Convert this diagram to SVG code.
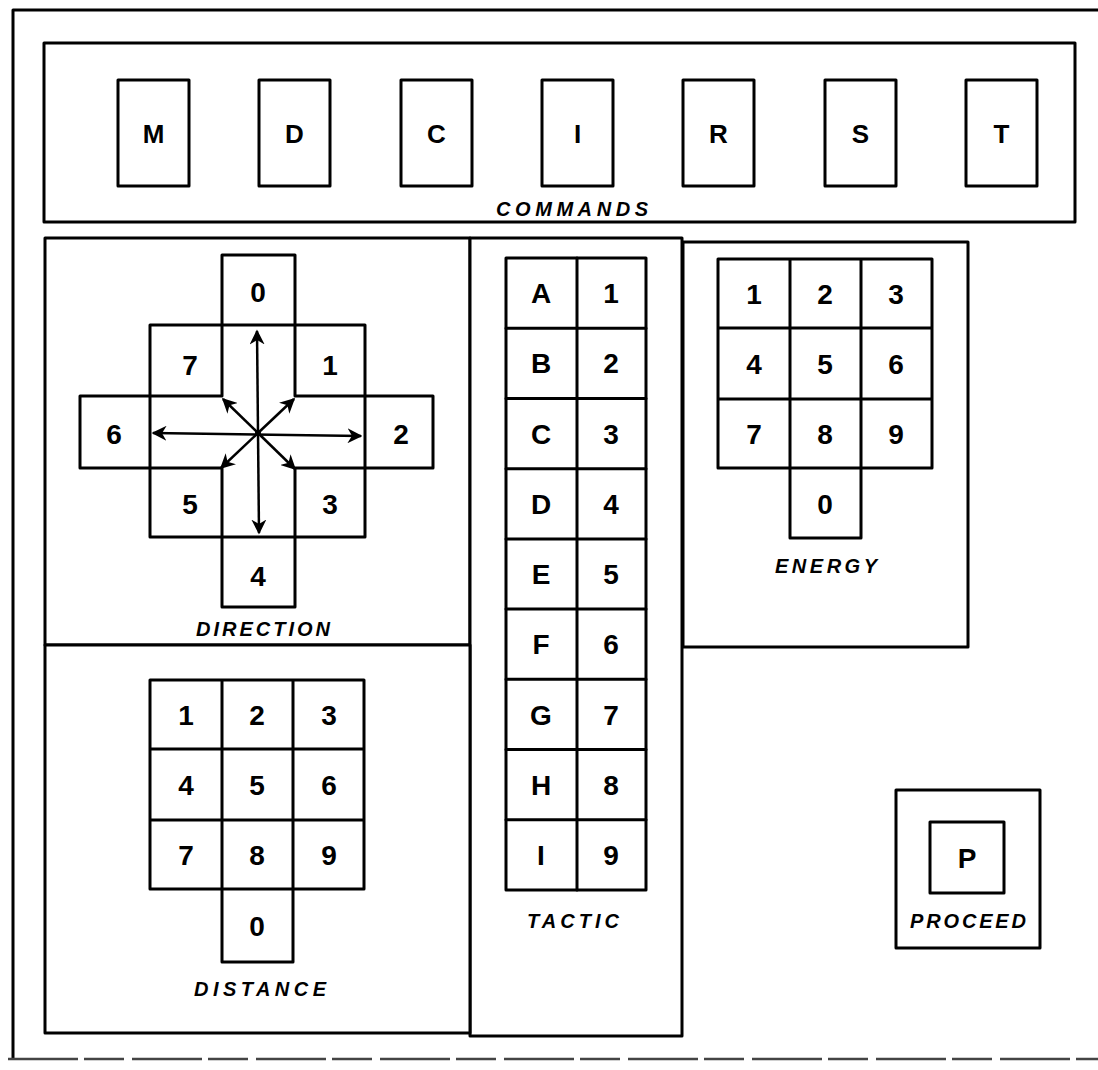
<svg xmlns="http://www.w3.org/2000/svg" width="1098" height="1070" viewBox="0 0 1098 1070">
<style>
.ln{fill:none;stroke:#000;stroke-width:3;stroke-linejoin:round;stroke-linecap:round}
.box{fill:#fff;stroke:#000;stroke-width:3;stroke-linejoin:round}
.k{font-family:"Liberation Sans",Arial,sans-serif;font-weight:bold;font-size:28px;text-anchor:middle;fill:#000}
.c{font-size:26px}
.lbl{font-family:"Liberation Sans",Arial,sans-serif;font-weight:bold;font-style:italic;font-size:20px;text-anchor:middle;fill:#000}
.ar{fill:none;stroke:#000;stroke-width:2.5}
</style>
<defs>
<marker id="ah" viewBox="0 0 10 10" refX="9" refY="5" markerWidth="6" markerHeight="6" orient="auto-start-reverse" markerUnits="strokeWidth">
<path d="M0,0 L10,5 L0,10 L3,5 Z" fill="#000"/>
</marker>
</defs>
<rect width="1098" height="1070" fill="#fff"/>
<g id="frame">
<path class="ln" d="M1098,10 H13 V1058" stroke-width="2.5"/>
<path d="M8,1059 H1098" fill="none" stroke="#444" stroke-width="2.5" stroke-dasharray="70 6 40 8"/>
</g>
<g id="commands">
<rect class="box" x="44" y="43" width="1031" height="179"/>
<g id="cmd-M"><rect class="box" x="118" y="80" width="71" height="106"/><text class="k c" x="153.5" y="143">M</text></g>
<g id="cmd-D"><rect class="box" x="259" y="80" width="71" height="106"/><text class="k c" x="294.5" y="143">D</text></g>
<g id="cmd-C"><rect class="box" x="401" y="80" width="71" height="106"/><text class="k c" x="436.5" y="143">C</text></g>
<g id="cmd-I"><rect class="box" x="542" y="80" width="71" height="106"/><text class="k c" x="577.5" y="143">I</text></g>
<g id="cmd-R"><rect class="box" x="683" y="80" width="71" height="106"/><text class="k c" x="718.5" y="143">R</text></g>
<g id="cmd-S"><rect class="box" x="825" y="80" width="71" height="106"/><text class="k c" x="860.5" y="143">S</text></g>
<g id="cmd-T"><rect class="box" x="966" y="80" width="71" height="106"/><text class="k c" x="1001.5" y="143">T</text></g>
<text class="lbl" x="572" y="216" textLength="152" lengthAdjust="spacing">COMMANDS</text>
</g>
<g id="direction">
<rect class="box" x="45" y="238" width="425" height="407"/>
<path class="ln" d="M222,396 V255 H295 V396 M222,468 V607 H295 V468 M150,325 H365 M150,537 H365 M150,325 V537 M365,325 V537 M222,396 H80 V468 H222 M295,396 H433 V468 H295"/>
<text class="k" x="258" y="302">0</text>
<text class="k" x="190" y="375">7</text>
<text class="k" x="330" y="375">1</text>
<text class="k" x="114" y="444">6</text>
<text class="k" x="401" y="444">2</text>
<text class="k" x="190" y="514">5</text>
<text class="k" x="330" y="514">3</text>
<text class="k" x="258" y="586">4</text>
<text class="lbl" x="263" y="636" textLength="134" lengthAdjust="spacing">DIRECTION</text>
</g>
<g id="connectors">
<line class="ar" x1="257" y1="331" x2="259" y2="533" marker-start="url(#ah)" marker-end="url(#ah)"/>
<line class="ar" x1="153" y1="433" x2="361" y2="436" marker-start="url(#ah)" marker-end="url(#ah)"/>
<line class="ar" x1="258" y1="433" x2="223" y2="399" marker-end="url(#ah)"/>
<line class="ar" x1="258" y1="433" x2="294" y2="399" marker-end="url(#ah)"/>
<line class="ar" x1="258" y1="433" x2="221" y2="468" marker-end="url(#ah)"/>
<line class="ar" x1="258" y1="433" x2="295" y2="469" marker-end="url(#ah)"/>
<circle cx="258" cy="433" r="3" fill="#000"/>
</g>
<g id="tactic">
<rect class="box" x="470" y="238" width="212" height="798"/>
<rect class="box" x="506" y="258" width="140" height="632"/>
<path class="ln" d="M577,258 V890 M506,328.2 H646 M506,398.4 H646 M506,468.7 H646 M506,538.9 H646 M506,609.1 H646 M506,679.3 H646 M506,749.6 H646 M506,819.8 H646"/>
<g class="k">
<text x="541" y="303">A</text><text x="611" y="303">1</text>
<text x="541" y="373">B</text><text x="611" y="373">2</text>
<text x="541" y="444">C</text><text x="611" y="444">3</text>
<text x="541" y="514">D</text><text x="611" y="514">4</text>
<text x="541" y="584">E</text><text x="611" y="584">5</text>
<text x="541" y="654">F</text><text x="611" y="654">6</text>
<text x="541" y="725">G</text><text x="611" y="725">7</text>
<text x="541" y="795">H</text><text x="611" y="795">8</text>
<text x="541" y="865">I</text><text x="611" y="865">9</text>
</g>
<text class="lbl" x="573" y="928" textLength="92" lengthAdjust="spacing">TACTIC</text>
</g>
<g id="energy">
<rect class="box" x="683" y="242" width="285" height="405"/>
<path class="ln" d="M718,259 H932 V468 H861 V538 H790 V468 H718 Z M790,259 V468 M861,259 V468 M718,328 H932 M718,399 H932 M790,468 H861"/>
<g class="k">
<text x="754" y="304">1</text><text x="825" y="304">2</text><text x="896" y="304">3</text>
<text x="754" y="374">4</text><text x="825" y="374">5</text><text x="896" y="374">6</text>
<text x="754" y="444">7</text><text x="825" y="444">8</text><text x="896" y="444">9</text>
<text x="825" y="514">0</text>
</g>
<text class="lbl" x="826" y="573" textLength="102" lengthAdjust="spacing">ENERGY</text>
</g>
<g id="distance">
<rect class="box" x="45" y="645" width="425" height="388"/>
<path class="ln" d="M150,680 H364 V889 H293 V962 H222 V889 H150 Z M222,680 V889 M293,680 V889 M150,749 H364 M150,820 H364 M222,889 H293"/>
<g class="k">
<text x="186" y="725">1</text><text x="257" y="725">2</text><text x="329" y="725">3</text>
<text x="186" y="795">4</text><text x="257" y="795">5</text><text x="329" y="795">6</text>
<text x="186" y="865">7</text><text x="257" y="865">8</text><text x="329" y="865">9</text>
<text x="257" y="936">0</text>
</g>
<text class="lbl" x="260" y="996" textLength="132" lengthAdjust="spacing">DISTANCE</text>
</g>
<g id="proceed">
<rect class="box" x="896" y="790" width="144" height="158"/>
<rect class="box" x="930" y="822" width="74" height="71"/>
<text class="k" x="967" y="868">P</text>
<text class="lbl" x="968" y="928" textLength="116" lengthAdjust="spacing">PROCEED</text>
</g>
</svg>
